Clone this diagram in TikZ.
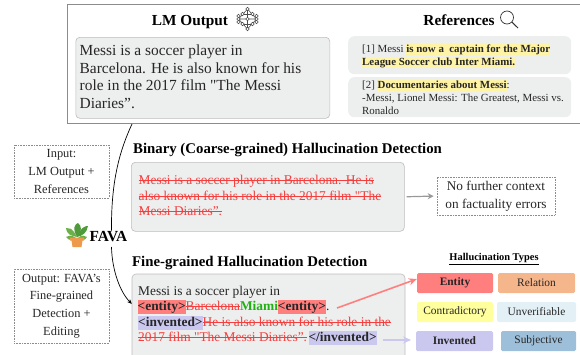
\documentclass[tikz,border=0pt]{standalone}
\usepackage{fontspec}
\setmainfont{Liberation Serif}
\newfontfamily\plainq{Liberation Serif}
\newcommand{\sq}{{\plainq"}}
\usetikzlibrary{arrows.meta}
\definecolor{boxgray}{HTML}{EDEEEE}
\definecolor{boxedge}{HTML}{BDBDBD}
\definecolor{hlyellow}{HTML}{FFF3A6}
\definecolor{tagred}{HTML}{FF7F7F}
\definecolor{tagblue}{HTML}{CBC8F0}
\definecolor{strikered}{HTML}{F43F3F}
\definecolor{miami}{HTML}{22B014}
\definecolor{relationc}{HTML}{F6B68C}
\definecolor{contrac}{HTML}{FFFF9E}
\definecolor{unverc}{HTML}{E3F0F6}
\definecolor{subjc}{HTML}{9DBFDA}
\definecolor{leafa}{HTML}{4F9A3A}
\definecolor{leafb}{HTML}{6DB04A}
\definecolor{potc}{HTML}{EE9A4D}
\newsavebox{\favabox}
\newcommand{\strk}[1]{\sbox{\favabox}{\color{strikered}#1}\rlap{\color{strikered}\rule[0.24em]{\wd\favabox}{0.55pt}}\usebox{\favabox}}
\newcommand{\hlc}[2]{{\setlength{\fboxsep}{0pt}\colorbox{#1}{\rule[-0.27em]{0pt}{1.02em}#2}}}
\tikzset{
  panel/.style={draw=boxedge,line width=0.6pt,fill=boxgray,rounded corners=4pt},
  refpanel/.style={fill=boxgray,rounded corners=6pt},
  note/.style={draw=black!45,densely dotted,line width=0.6pt,align=center,font=\fontsize{12.4}{17.8}\selectfont,text=black!85,inner sep=0pt},
  heading/.style={font=\fontsize{14.8}{16}\selectfont\bfseries,anchor=base west,inner sep=0pt},
  bigtitle/.style={font=\fontsize{15.3}{16}\selectfont\bfseries,anchor=base,inner sep=0pt},
  lmline/.style={font=\fontsize{15.4}{17}\selectfont,anchor=base west,inner sep=0pt,text=black!85},
  refline/.style={font=\fontsize{10.9}{12}\selectfont,anchor=base west,inner sep=0pt,text=black!85},
  fineline/.style={font=\fontsize{13.4}{15}\selectfont,anchor=base west,inner sep=0pt,text=black!85},
  typebox/.style={rounded corners=1.5pt,font=\fontsize{11.4}{12}\selectfont,text=black!85,inner sep=0pt},
  typebold/.style={typebox,font=\fontsize{11.4}{12}\selectfont\bfseries},
  flow/.style={line width=0.7pt,black},
}
\begin{document}
\begin{tikzpicture}[x=1pt,y=-1pt]
\useasboundingbox (0,0) rectangle (580,354);
% outer frame
\node[draw=black!45,line width=0.7pt,minimum width=530pt,minimum height=119pt,anchor=north west,inner sep=0pt] (frame) at (67,4) {};
% LM output
\node[bigtitle] (lmtitle) at (190,25) {LM Output};
\begin{scope}[shift={(247.5,19)},line width=0.6pt,black!70]
  \draw (0,-10) -- (-9,0) -- (0,10) -- (9,0) -- cycle (0,-10) -- (0,10) (-9,0) -- (9,0);
  \draw (-5,-5) -- (5,-5) (-5,5) -- (5,5);
  \foreach \p in {(0,-10),(0,10),(-9,0),(9,0),(-5,-5),(5,-5),(-5,5),(5,5),(0,0),(-9,-3),(-9,3),(9,-3),(9,3)}
    \draw[fill=white] \p circle (1.7);
\end{scope}
\node[panel,minimum width=254pt,minimum height=81pt,anchor=north west,inner sep=0pt] (lmbox) at (75.5,37) {};
\node[lmline] (lm1) at (79.5,55) {Messi is a soccer player in};
\node[lmline] (lm2) at (79.5,73) {Barcelona. He is also known for his};
\node[lmline] (lm3) at (79.5,90.5) {role in the 2017 film \sq The Messi};
\node[lmline] (lm4) at (79.5,108) {Diaries”.};
% references
\node[bigtitle] (reftitle) at (459,25) {References};
\begin{scope}[line width=0.7pt,black!80]
  \draw (507,17.5) circle (6.5);
  \draw[line width=1pt] (511.8,22) -- (518,28);
\end{scope}
\node[refpanel,minimum width=223pt,minimum height=38pt,anchor=north west,inner sep=0pt] (ref1box) at (348,36) {};
\node[refpanel,minimum width=223pt,minimum height=40pt,anchor=north west,inner sep=0pt] (ref2box) at (348,77) {};
\node[refline] (r1a) at (362,52) {[1] Messi \hlc{hlyellow}{\textbf{is now a\ \ captain for the Major}}};
\node[refline] (r1b) at (362,65) {\hlc{hlyellow}{\textbf{League Soccer club Inter Miami.}}};
\node[refline] (r2a) at (362,88) {[2] \hlc{hlyellow}{\textbf{Documentaries about Messi}}:};
\node[refline] (r2b) at (362,101) {-Messi, Lionel Messi: The Greatest, Messi vs.};
\node[refline] (r2c) at (362,114) {Ronaldo};
% left notes
\node[note,minimum width=95pt,minimum height=53pt] (input) at (61.5,171.5) {Input:\\LM Output +\\References};
\node[note,minimum width=95pt,minimum height=74pt] (output) at (61.5,306) {Output: FAVA’s\\Fine-grained\\Detection +\\Editing};
% FAVA
\begin{scope}[shift={(77,235)}]
  \fill[leafa] (0,2) .. controls (-5,-7) and (-2,-11) .. (1,-12) .. controls (5,-9) and (5,-4) .. (0,2);
  \fill[leafb] (0,2) .. controls (-5,-8) and (-8,-7) .. (-11,-7) .. controls (-10,0) and (-5,1) .. (0,2);
  \fill[leafa] (0,2) .. controls (4,-8) and (8,-9) .. (11,-9) .. controls (10,-2) and (5,1) .. (0,2);
  \fill[leafb] (-1,3) .. controls (-6,-1) and (-9,1) .. (-11,2) .. controls (-8,6) and (-4,6) .. (-1,3);
  \fill[leafb] (1,3) .. controls (5,-1) and (8,1) .. (10,2) .. controls (8,6) and (4,6) .. (1,3);
  \fill[potc] (-7,2.5) -- (7,2.5) -- (7,5.5) -- (5.5,5.5) -- (4.5,12) -- (-4.5,12) -- (-5.5,5.5) -- (-7,5.5) -- cycle;
\end{scope}
\node[font=\fontsize{15.4}{16}\selectfont\bfseries,anchor=base west,inner sep=0pt] (fava) at (89.5,241) {FAVA};
\coordinate (curveAstart) at (132,124);
\coordinate (curveBstart) at (111.5,247);
\draw[flow] (curveAstart) .. controls (120,150) and (111,180) .. (fava.north -| curveBstart);
\draw[flow,-{Stealth[length=5pt,width=4pt]}] (curveBstart) .. controls (112,270) and (120,292) .. (132,304);
% binary
\node[heading] (bintitle) at (133,153) {Binary (Coarse-grained) Hallucination Detection};
\node[panel,minimum width=273pt,minimum height=69pt,anchor=north west,inner sep=0pt] (binbox) at (131,162) {};
\node[fineline] (b1) at (138.5,184) {\strk{Messi is a soccer player in Barcelona. He is}};
\node[fineline] (b2) at (138.5,200) {\strk{also known for his role in the 2017 film \sq The}};
\node[fineline] (b3) at (138.5,215) {\strk{Messi Diaries”.}};
\node[note,minimum width=118pt,minimum height=38pt,font=\fontsize{13.3}{18}\selectfont] (nofurther) at (496,196) {No further context\\on factuality errors};
\draw[black!40,line width=1.2pt,-{Stealth[length=6pt,width=6pt]},shorten <=2pt,shorten >=3pt] (binbox.east) -- (nofurther.west);
% fine
\node[heading] (finetitle) at (132,266) {Fine-grained Hallucination Detection};
\fill[boxgray,draw=boxedge,line width=0.6pt,rounded corners=4pt] (132,360) -- (132,274) -- (405,274) -- (405,360);
\node[fineline] (f1) at (138,295) {Messi is a soccer player in};
\node[fineline] (f2) at (137.5,310) {\hlc{tagred}{\textbf{<entity>}}\strk{Barcelona}\textcolor{miami}{\textbf{Miami}}\hlc{tagred}{\textbf{<entity>}}.};
\node[fineline] (f3) at (138,326) {\hlc{tagblue}{\textbf{<invented>}}\strk{He is also known for his role in the}};
\node[fineline] (f4) at (138,341) {\strk{2017 film \sq The Messi Diaries”.}\hspace{1.5pt}\hlc{tagblue}{\textbf{</invented>}}};
% types
\node[font=\fontsize{10.4}{12}\selectfont\bfseries,inner sep=0pt] (typetitle) at (494,259) {\underline{Hallucination Types}};
\node[typebold,fill=tagred,minimum width=76pt,minimum height=20pt] (tentity) at (455,283) {Entity};
\node[typebox,fill=relationc,minimum width=77pt,minimum height=20pt] (trelation) at (536.5,283) {Relation};
\node[typebox,fill=contrac,minimum width=76pt,minimum height=20pt] (tcontra) at (455,312) {Contradictory};
\node[typebox,fill=unverc,minimum width=79pt,minimum height=20pt] (tunver) at (536.5,312) {Unverifiable};
\node[typebold,fill=tagblue,minimum width=77pt,minimum height=20pt] (tinvented) at (454.5,341) {Invented};
\node[typebox,fill=subjc,minimum width=75pt,minimum height=20pt] (tsubj) at (538.5,341) {Subjective};
\coordinate (pinkstart) at (337,308);
\coordinate (bluestart) at (383,340);
\draw[tagred,line width=1.6pt,-{Stealth[length=8pt,width=7pt]}] (pinkstart) -- (tentity.west |- 0,279);
\draw[tagblue,line width=1.6pt,-{Stealth[length=8pt,width=7pt]}] (bluestart) -- (411,340);
\end{tikzpicture}
\end{document}
